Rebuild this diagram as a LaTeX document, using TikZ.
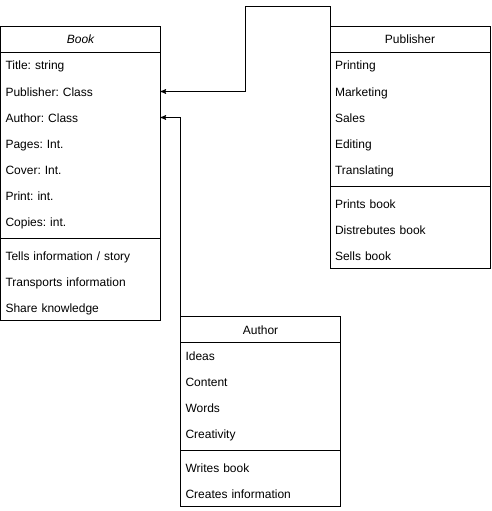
\documentclass[tikz,border=0pt]{standalone}
\usepackage{fontspec}
\setmainfont{Liberation Sans}
\usetikzlibrary{arrows,positioning}
\frenchspacing

\begin{document}
\begin{tikzpicture}[x=1pt,y=-1pt,->,>=stealth',line width=1pt,node distance=0pt,
  font=\fontsize{12}{14}\selectfont]
  \tikzstyle{head}=[draw,minimum width=160pt,minimum height=26pt,inner sep=0pt,outer sep=0pt,
    text height=10pt,text depth=1pt]
  \tikzstyle{row}=[text width=150pt,minimum height=26pt,inner xsep=5pt,inner ysep=0pt,
    outer sep=0pt,align=left,text height=10pt,text depth=1pt]
  \tikzstyle{gap}=[minimum width=160pt,minimum height=8pt,inner sep=0pt,outer sep=0pt]

  \useasboundingbox (0,0) rectangle (491,511);

  % Book
  \node[head] (book)       at (80.5,39.5) {\itshape Book};
  \node[row]  (title)      [below=of book]       {Title: string};
  \node[row]  (bpub)       [below=of title]      {Publisher: Class};
  \node[row]  (bauth)      [below=of bpub]       {Author: Class};
  \node[row]  (pages)      [below=of bauth]      {Pages: Int.};
  \node[row]  (cover)      [below=of pages]      {Cover: Int.};
  \node[row]  (print)      [below=of cover]      {Print: int.};
  \node[row]  (copies)     [below=of print]      {Copies: int.};
  \node[gap]  (bgap)       [below=of copies]     {};
  \node[row]  (tells)      [below=of bgap]       {Tells information / story};
  \node[row]  (transports) [below=of tells]      {Transports information};
  \node[row]  (share)      [below=of transports] {Share knowledge};

  % Publisher
  \node[head] (publisher)  at (410,39.5) {Publisher};
  \node[row]  (printing)   [below=of publisher]  {Printing};
  \node[row]  (marketing)  [below=of printing]   {Marketing};
  \node[row]  (sales)      [below=of marketing]  {Sales};
  \node[row]  (editing)    [below=of sales]      {Editing};
  \node[row]  (translating)[below=of editing]    {Translating};
  \node[gap]  (pgap)       [below=of translating]{};
  \node[row]  (prints)     [below=of pgap]       {Prints book};
  \node[row]  (distr)      [below=of prints]     {Distrebutes book};
  \node[row]  (sells)      [below=of distr]      {Sells book};

  % Author
  \node[head] (author)     at (260.5,329.5) {Author};
  \node[row]  (ideas)      [below=of author]     {Ideas};
  \node[row]  (content)    [below=of ideas]      {Content};
  \node[row]  (words)      [below=of content]    {Words};
  \node[row]  (creativity) [below=of words]      {Creativity};
  \node[gap]  (agap)       [below=of creativity] {};
  \node[row]  (writes)     [below=of agap]       {Writes book};
  \node[row]  (creates)    [below=of writes]     {Creates information};

  % outlines
  \draw[-] (book.north west) rectangle (share.south east)
           (bgap.west) -- (bgap.east)
           (publisher.north west) rectangle (sells.south east)
           (pgap.west) -- (pgap.east)
           (author.north west) rectangle (creates.south east)
           (agap.west) -- (agap.east);

  \draw (publisher.north west) |- ++(-84.5,-20) |- (bpub.east);
  \draw (author.north west) |- (bauth.east);
\end{tikzpicture}
\end{document}
